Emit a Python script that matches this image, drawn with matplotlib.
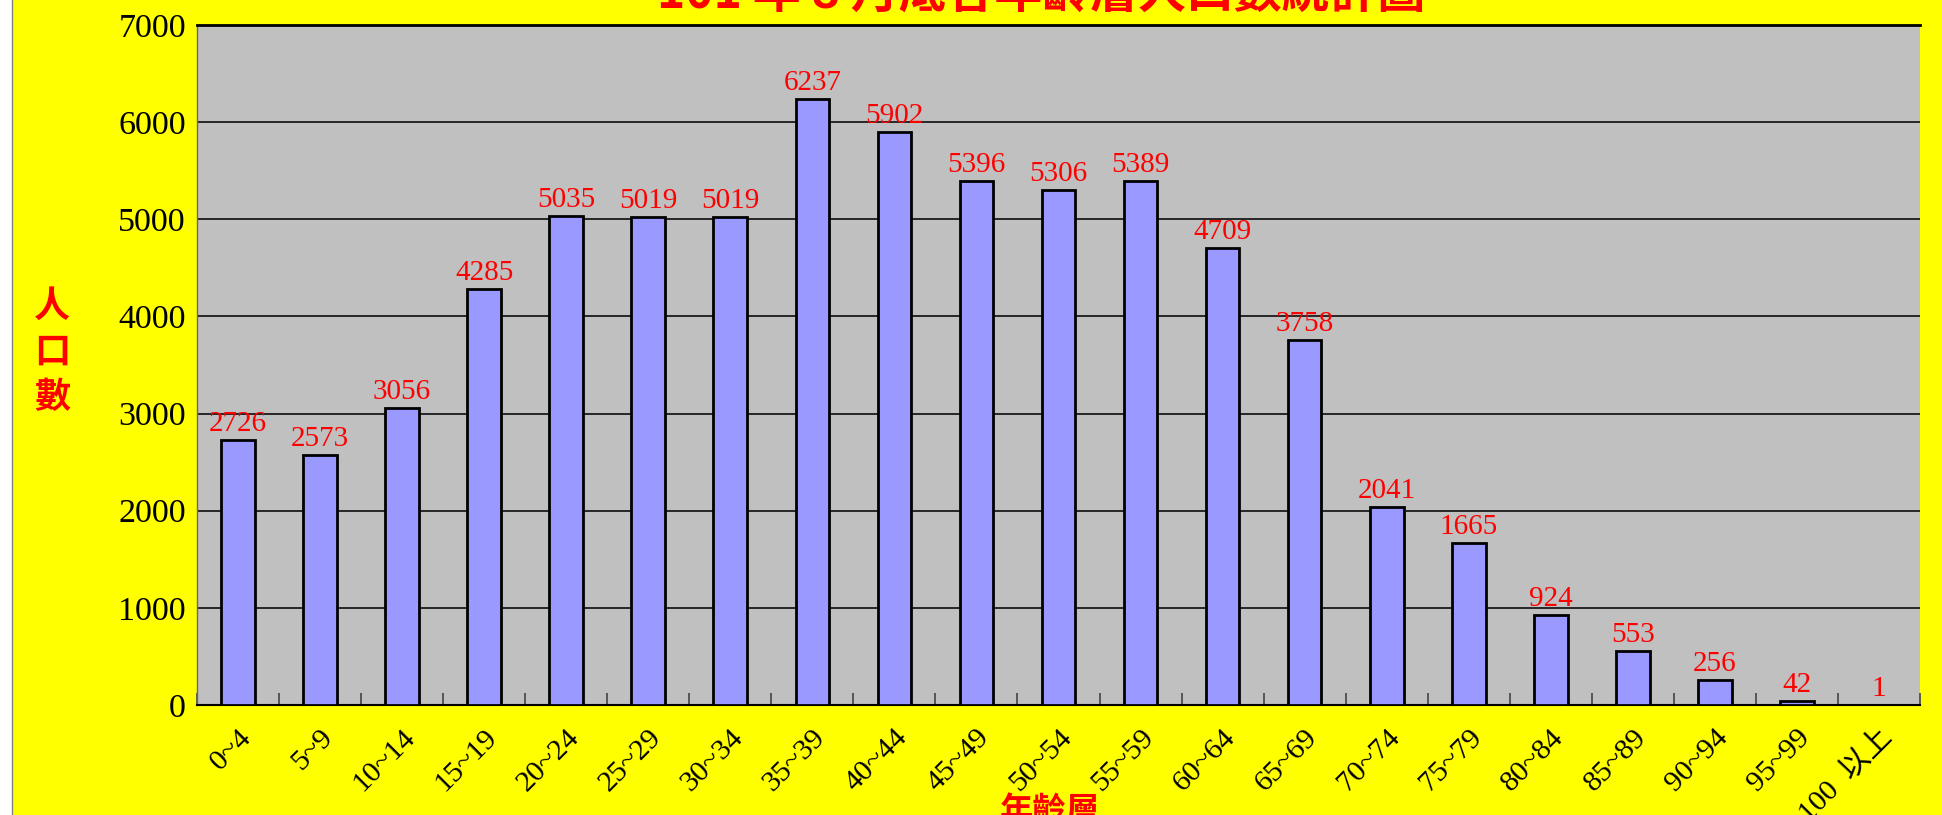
import numpy as np
from matplotlib import pyplot as plt
from matplotlib.patches import Rectangle

# age groups and head counts
groups = ['0~4', '5~9', '10~14', '15~19', '20~24', '25~29', '30~34', '35~39',
          '40~44', '45~49', '50~54', '55~59', '60~64', '65~69', '70~74',
          '75~79', '80~84', '85~89', '90~94', '95~99', '100  以上']
people = [2726, 2573, 3056, 4285, 5035, 5019, 5019, 6237, 5902, 5396, 5306,
          5389, 4709, 3758, 2041, 1665, 924, 553, 256, 42, 1]
yticks = [0, 1000, 2000, 3000, 4000, 5000, 6000, 7000]

serif = ['Liberation Serif', 'Noto Sans CJK TC', 'DejaVu Sans']
cjk = ['Noto Sans CJK TC', 'DejaVu Sans']

W, H = 1942, 815
fig = plt.figure(figsize=(W / 100, H / 100), dpi=100)
fig.patch.set_facecolor('#FFFF00')

# white strip on the left edge
fig.patches.append(Rectangle((0, 0), 12 / W, 1, transform=fig.transFigure,
                             facecolor='white', edgecolor='none', zorder=0))
fig.add_artist(plt.Line2D([12 / W, 12 / W], [0, 1], transform=fig.transFigure,
                          color='#808080', lw=1))

ax = fig.add_axes([197 / W, (H - 705) / H, 1723 / W, 680 / H])
ax.set_facecolor('#C0C0C0')

x = np.arange(len(groups))
ax.bar(x, people, width=0.41, color='#9999FF', edgecolor='black', linewidth=2, zorder=3)

for xi, v in zip(x, people):
    ax.annotate(str(v), (xi, v), xytext=(0, 6.5), textcoords='offset points',
                ha='center', va='baseline', color='red', fontsize=21, family=serif)

ax.set_xlim(-0.5, len(groups) - 0.5)
ax.set_ylim(0, 7000)
ax.set_yticks(yticks)
ax.set_yticklabels([str(t) for t in yticks], fontsize=24.5, family=serif)
ax.tick_params(axis='y', length=0, pad=8)
ax.yaxis.grid(True, color='#1a1a1a', lw=1.3, zorder=1)

ax.set_xticks(x)
ax.set_xticklabels(groups, rotation=45, ha='right', rotation_mode='anchor',
                   fontsize=21.5, family=serif)
ax.tick_params(axis='x', length=0, pad=14)
ax.set_xticks(np.arange(-0.5, len(groups)), minor=True)
ax.tick_params(axis='x', which='minor', direction='in', length=9, color='#444444', width=1.2)

ax.spines['right'].set_visible(False)
ax.spines['top'].set_color('black')
ax.spines['top'].set_linewidth(2)
ax.spines['left'].set_color('#666666')
ax.spines['left'].set_linewidth(1)
ax.spines['bottom'].set_color('black')
ax.spines['bottom'].set_linewidth(1.5)

# title, cut off at the top of the picture
fig.text(1041 / W, 1 - 8 / H, '101 年 8 月底各年齡層人口數統計圖', ha='center', va='baseline',
         color='red', fontsize=34.5, fontweight='bold', family=cjk)
# y label stacked vertically
fig.text(52 / W, 1 - 352 / H, '人\n口\n數', ha='center', va='center', color='red',
         fontsize=26, fontweight='bold', family=cjk, linespacing=1.3)
# x label, cut off at the bottom
fig.text(1050 / W, 1 - 795 / H, '年齡層', ha='center', va='top', color='red',
         fontsize=24, fontweight='bold', family=cjk)

fig.savefig('out.png', dpi=100, facecolor=fig.get_facecolor())
